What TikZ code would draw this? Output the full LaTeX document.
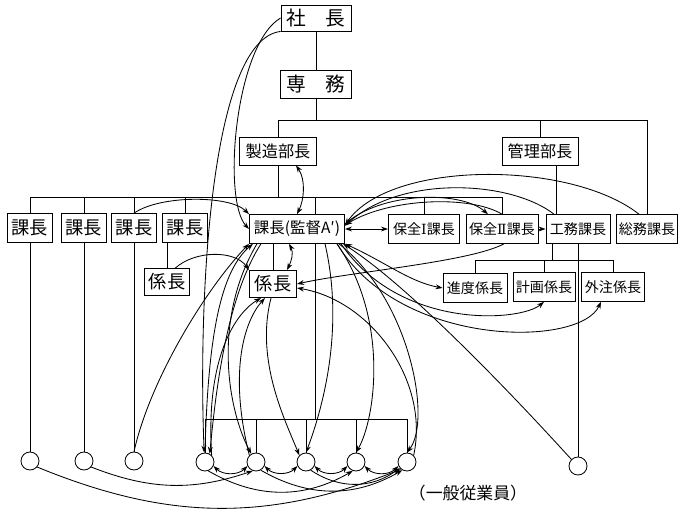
\documentclass[tikz,border=0pt]{standalone}
\usepackage{fontspec}
\setmainfont{Noto Sans CJK JP}
\newfontfamily\romanfont{DejaVu Serif}
\usetikzlibrary{arrows.meta}

\begin{document}
\begin{tikzpicture}[x=0.025cm, y=-0.025cm, line width=0.6pt,
  >={Stealth[length=5pt,width=3.5pt]},
  post/.style={draw, fill=white, inner xsep=1pt, inner ysep=0pt,
    minimum height=0.72cm, font=\fontsize{13}{14}\selectfont},
  chief/.style={post, font=\fontsize{14}{15}\selectfont},
  dept/.style={post, font=\fontsize{11.5}{12}\selectfont},
  narrow/.style={post, font=\fontsize{10}{11}\selectfont},
  worker/.style={draw, fill=white, circle, minimum size=0.45cm, inner sep=0pt},
  comm/.style={->},
  mutual/.style={<->}]
\useasboundingbox (0,0) rectangle (680,514);

% top management
\node[chief, minimum width=1.75cm, minimum height=0.65cm] at (316,18) (shacho) {社　長};
\node[chief, minimum width=1.78cm, minimum height=0.7cm] at (316,84) (senmu) {専　務};
\node[dept, minimum width=1.93cm, minimum height=0.7cm] at (278,151) (seizo) {製造部長};
\node[dept, minimum width=1.9cm, minimum height=0.7cm] at (540,151) (kanri) {管理部長};

% section chiefs
\node[post, minimum width=1.13cm] at (30,228) (ka1) {課長};
\node[post, minimum width=1.13cm] at (84,228) (ka2) {課長};
\node[post, minimum width=1.13cm] at (134,228) (ka3) {課長};
\node[post, minimum width=1.13cm] at (185,228) (ka4) {課長};
\node[dept, font=\fontsize{11}{12}\selectfont, minimum width=2.38cm] at (297,229) (kaA) {課長(監督A′)};
\node[narrow, minimum width=1.78cm] at (424,229) (hozen1) {保全{\romanfont Ⅰ}課長};
\node[narrow, minimum width=1.8cm] at (502,229) (hozen2) {保全{\romanfont Ⅱ}課長};
\node[narrow, minimum width=1.6cm] at (578,229) (koumu) {工務課長};
\node[narrow, minimum width=1.53cm] at (647,229) (soumu) {総務課長};

% foremen
\node[post, minimum width=1.13cm, minimum height=0.66cm] at (167,282) (kakariL) {係長};
\node[post, minimum width=1.18cm, minimum height=0.68cm] at (273,284) (kakari) {係長};
\node[narrow, minimum width=1.6cm] at (475,288) (shindo) {進度係長};
\node[narrow, minimum width=1.55cm] at (544,287) (keikaku) {計画係長};
\node[narrow, minimum width=1.58cm] at (613,287) (gaichu) {外注係長};

% workers
\node[worker] at (30,461) (w1) {};
\node[worker] at (84,461) (w2) {};
\node[worker] at (134,461) (w3) {};
\node[worker] at (205,462) (w4) {};
\node[worker] at (256,462) (w5) {};
\node[worker] at (306,462) (w6) {};
\node[worker] at (356,462) (w7) {};
\node[worker] at (407,462) (w8) {};
\node[worker] at (578,466) (wR) {};
\node[font=\fontsize{12}{13}\selectfont] at (468,493) (ippan) {（一般従業員）};

% formal lines
\coordinate (top) at (0,120);
\coordinate (mid) at (0,197);
\coordinate (low) at (0,260);
\coordinate (floor) at (0,419);
\coordinate (kaAtop) at ([xshift=0.45cm]kaA.north);
\coordinate (kaAbot) at ([xshift=0.45cm]kaA.south);
\coordinate (kanribot) at ([xshift=0.42cm]kanri.south);
\coordinate (koumubot) at ([xshift=-0.65cm]koumu.south);

\draw (shacho) -- (senmu);
\draw (senmu.south) -- (senmu.south |- top);
\draw (seizo.north) -- (seizo.north |- top) -| (soumu.north);
\draw (kanri.north) -- (kanri.north |- top);
\draw (kanribot) -- (kanribot |- koumu.north);
\draw (seizo.south) -- (seizo.south |- mid);
\draw (ka1.north) |- (hozen2.north |- mid) -- (hozen2.north);
\foreach \n in {ka2,ka3,ka4,hozen1}
  \draw (\n.north) -- (\n.north |- mid);
\draw (kaAtop) -- (kaAtop |- mid);
\draw (kakariL.north) -- (kakariL.north |- ka4.south);
\draw (kakari.north) -- (kakari.north |- kaA.south);
\draw (kaAbot) -- (kaAbot |- floor);
\draw (w4.north) |- (w8.north |- floor) -- (w8.north);
\foreach \n in {w5,w6,w7}
  \draw (\n.north) -- (\n.north |- floor);
\foreach \i in {1,2,3}
  \draw (ka\i.south) -- (w\i.north);
\draw (koumubot) -- (koumubot |- low);
\draw (shindo.north) |- (gaichu.north |- low) -- (gaichu.north);
\draw (keikaku.north) -- (keikaku.north |- low);
\draw (koumu.south) -- (wR.north);

% informal contacts, upper part
\draw[comm] (shacho.west) .. controls (235,45) and (222,200) .. (kaA.west);
\draw[comm] (shacho.south west) .. controls (210,40) and (198,300) .. (w4.95);
\draw[mutual] ([xshift=0.45cm]seizo.south) .. controls (306,180) and (304,200) .. (kaA.north);
\draw[mutual] ([xshift=-0.2cm]kaA.south) .. controls (294,253) and (291,262) .. ([xshift=0.35cm]kakari.north);
\draw[comm] (ka3.north) .. controls (160,195) and (230,195) .. (kaA.north west);
\draw[comm] ([xshift=0.2cm]kakariL.north) .. controls (195,250) and (235,250) .. (kakari.north west);
\draw[mutual] (kaA.east) -- (hozen1.west);
\draw[comm] (hozen2.east) -- (koumu.west);
\draw[comm] ([xshift=-0.2cm]soumu.north) .. controls (570,160) and (390,160) .. ([yshift=0.1cm]kaA.east);
\draw[comm] ([xshift=-0.6cm]koumu.north) .. controls (510,180) and (400,175) .. ([yshift=0.08cm]kaA.east);
\draw[comm] ([yshift=0.12cm]kaA.east) .. controls (380,192) and (460,190) .. ([xshift=-0.35cm]hozen2.north);
\draw[comm] (hozen2.north) .. controls (470,195) and (390,198) .. ([yshift=0.1cm]kaA.east);
\draw[comm] ([xshift=0.05cm]hozen2.south) .. controls (470,262) and (350,272) .. (kakari.east);
\draw[mutual] (kaA.south east) .. controls (385,262) and (410,282) .. (shindo.west);
\draw[comm] ([xshift=-0.1cm]kaA.south east) .. controls (400,330) and (520,322) .. (keikaku.south);
\draw[comm] ([xshift=-0.2cm]kaA.south east) .. controls (400,348) and (580,348) .. ([xshift=-0.3cm]gaichu.south);
\draw[comm] (wR.north west) .. controls (490,370) and (400,280) .. ([xshift=-0.05cm]kaA.south east);

% informal contacts, down to the workers
\draw[comm] ([xshift=0.7cm]kaA.south) .. controls (345,330) and (322,410) .. (w6.north);
\draw[comm] ([xshift=1cm]kaA.south) .. controls (390,320) and (375,420) .. (w7.north);
\draw[comm] ([xshift=-0.15cm]kaA.south east) .. controls (410,300) and (432,420) .. (w8.north);
\draw[comm] (w8.north east) .. controls (430,380) and (370,300) .. ([yshift=-0.1cm]kakari.east);
\draw[comm] (w4.north east) .. controls (205,350) and (240,310) .. ([xshift=-0.3cm]kakari.south);
\draw[comm] (w5.north west) .. controls (228,370) and (245,320) .. ([xshift=-0.2cm]kakari.south);
\draw[comm] ([xshift=-0.05cm]kakari.south) .. controls (255,360) and (285,420) .. (w6.north west);
\draw[comm] (w3.north) .. controls (150,380) and (205,290) .. (kaA.south west);
\draw[comm] (w4.north) .. controls (208,330) and (222,270) .. ([xshift=0.1cm]kaA.south west);
\draw[comm] ([xshift=0.3cm]kaA.south west) .. controls (225,300) and (215,400) .. (w4.60);
\draw[comm] ([xshift=0.2cm]kaA.south west) .. controls (212,320) and (228,410) .. (w5.120);

% among the workers
\foreach \a/\b in {w4/w5,w5/w6,w6/w7,w7/w8}
  \draw[mutual] (\a.-25) to[bend right=45] (\b.-155);
\draw[comm] (w4.-70) to[bend right=30] (w7.-110);
\draw[comm] (w5.-60) to[bend right=30] (w8.-120);
\draw[comm] (w6.-60) to[bend right=35] (w8.-140);
\draw[comm] (w2.-40) to[bend right=20] (w5.-110);
\draw[comm] (w1.-40) to[bend right=22] (w8.-130);
\end{tikzpicture}
\end{document}
